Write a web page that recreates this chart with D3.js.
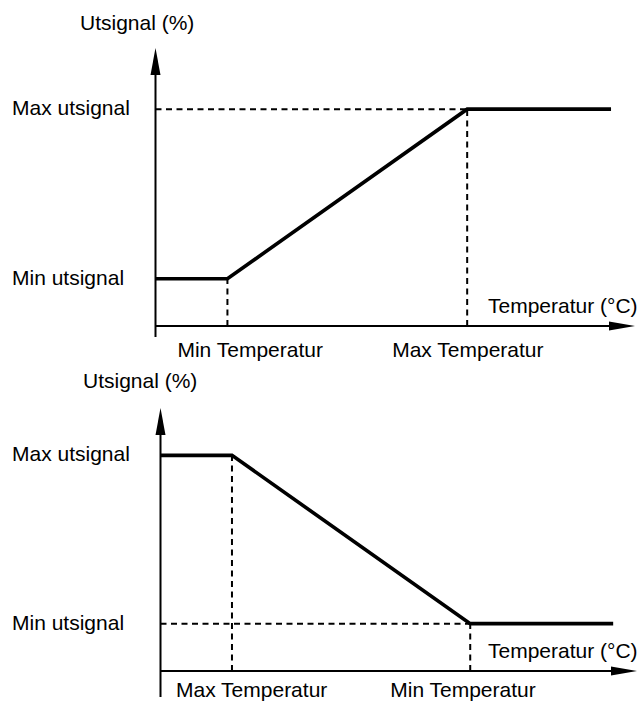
<!DOCTYPE html>
<html>
<head>
<meta charset="utf-8">
<script src="https://cdn.jsdelivr.net/npm/d3@7"></script>
<style>
html,body{margin:0;padding:0;background:#fff;}
svg text{font-family:"Liberation Sans",Arial,Helvetica,sans-serif;font-size:21px;fill:#000;}
</style>
</head>
<body>
<svg id="chart" width="642" height="702"></svg>
<script>
// ---- data ----
const yAxisTitle = "Utsignal (%)";
const xAxisTitle = "Temperatur (°C)";
const yLevelLabels = ["Min utsignal", "Max utsignal"];
// Panel 1 (rising)
const p1TempTicks = [1.5, 6.5];
const p1TempLabels = ["Min Temperatur", "Max Temperatur"];
const p1SignalLevels = [17, 78];
const p1LineX = [0, 1.5, 6.5, 9.5];
const p1LineY = [17, 17, 78, 78];
// Panel 2 (falling)
const p2TempTicks = [1.5, 6.5];
const p2TempLabels = ["Max Temperatur", "Min Temperatur"];
const p2SignalLevels = [18, 82];
const p2LineX = [0, 1.5, 6.5, 9.5];
const p2LineY = [82, 82, 18, 18];

const svg = d3.select("#chart");

function drawPanel(cfg) {
  const g = svg.append("g");
  const x = d3.scaleLinear().domain([0, 10]).range([cfg.x0, cfg.x1]);
  const y = d3.scaleLinear().domain([0, 100]).range([cfg.y0, cfg.y1]);

  // y axis with arrow
  g.append("line").attr("x1", x(0)).attr("x2", x(0))
    .attr("y1", cfg.y0 + cfg.yAxisExt).attr("y2", y(100) + 26)
    .attr("stroke", "#000").attr("stroke-width", 2);
  g.append("path")
    .attr("d", `M${x(0)},${y(100)} L${x(0) - 5},${y(100) + 27} L${x(0) + 5},${y(100) + 27} Z`)
    .attr("fill", "#000");
  // x axis with arrow
  g.append("line").attr("x1", x(0)).attr("x2", x(10) - 24)
    .attr("y1", y(0)).attr("y2", y(0))
    .attr("stroke", "#000").attr("stroke-width", 2);
  g.append("path")
    .attr("d", `M${x(10)},${y(0)} L${x(10) - 26},${y(0) - 4.5} L${x(10) - 26},${y(0) + 4.5} Z`)
    .attr("fill", "#000");

  // dashed guides
  const dash = "6,4.5";
  g.append("line")
    .attr("x1", x(0)).attr("x2", x(cfg.hGuideTo))
    .attr("y1", y(cfg.hGuideLevel)).attr("y2", y(cfg.hGuideLevel))
    .attr("stroke", "#000").attr("stroke-width", 2).attr("stroke-dasharray", dash);
  cfg.ticks.forEach((t, i) => {
    g.append("line")
      .attr("x1", x(t)).attr("x2", x(t))
      .attr("y1", y(0)).attr("y2", y(cfg.tickTop[i]))
      .attr("stroke", "#000").attr("stroke-width", 2).attr("stroke-dasharray", dash);
  });

  // main line
  const line = d3.line().x(d => x(d[0])).y(d => y(d[1]));
  g.append("path")
    .datum(cfg.lx.map((v, i) => [v, cfg.ly[i]]))
    .attr("d", line)
    .attr("fill", "none").attr("stroke", "#000").attr("stroke-width", 3.6)
    .attr("stroke-linejoin", "miter");

  // labels
  g.append("text").attr("x", cfg.titleX).attr("y", cfg.titleY).text(yAxisTitle);
  g.append("text").attr("x", 488).attr("y", y(0) - 13).text(xAxisTitle);
  cfg.levels.forEach((lv, i) => {
    g.append("text").attr("x", 12).attr("y", y(lv) + 6).text(yLevelLabels[i]);
  });
  cfg.ticks.forEach((t, i) => {
    g.append("text").attr("x", x(t) + cfg.labelOffsets[i]).attr("y", y(0) + cfg.labelDy).text(cfg.tickLabels[i]);
  });
}

drawPanel({
  x0: 155.5, x1: 635, y0: 326, y1: 48, yAxisExt: 11,
  ticks: p1TempTicks, tickLabels: p1TempLabels, tickTop: [p1SignalLevels[0], p1SignalLevels[1]],
  levels: p1SignalLevels, lx: p1LineX, ly: p1LineY,
  hGuideLevel: p1SignalLevels[1], hGuideTo: p1TempTicks[1],
  titleX: 80, titleY: 30, labelOffsets: [-50, -75], labelDy: 31
});

drawPanel({
  x0: 160.5, x1: 637, y0: 671, y1: 408, yAxisExt: 26,
  ticks: p2TempTicks, tickLabels: p2TempLabels, tickTop: [p2SignalLevels[1], p2SignalLevels[0]],
  levels: p2SignalLevels, lx: p2LineX, ly: p2LineY,
  hGuideLevel: p2SignalLevels[0], hGuideTo: p2TempTicks[1],
  titleX: 83, titleY: 388, labelOffsets: [-56, -80], labelDy: 26
});
</script>
</body>
</html>
